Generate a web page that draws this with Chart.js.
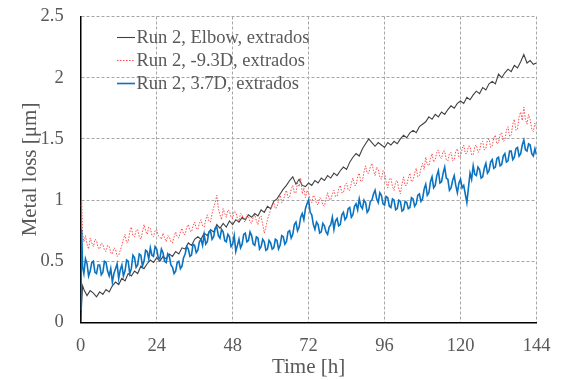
<!DOCTYPE html>
<html>
<head>
<meta charset="utf-8">
<script src="https://cdn.jsdelivr.net/npm/chart.js@4/dist/chart.umd.min.js"></script>
<style>
  html, body { margin: 0; padding: 0; background: #fff; }
  #wrap { width: 561px; height: 380px; position: relative; }
</style>
</head>
<body>
<div id="wrap"><canvas id="c"></canvas></div>
<script>
// ---- Categories (hours since start) ----
const hours = [0, 0.3, 0.6,
  1,2,3,4,5,6,7,8,9,10,11,12,13,14,15,16,17,18,19,20,21,22,23,24,
  25,26,27,28,29,30,31,32,33,34,35,36,37,38,39,40,41,42,43,44,45,46,47,48,
  49,50,51,52,53,54,55,56,57,58,59,60,61,62,63,64,65,66,67,68,69,70,71,72,
  73,74,75,76,77,78,79,80,81,82,83,84,85,86,87,88,89,90,91,92,93,94,95,96,
  97,98,99,100,101,102,103,104,105,106,107,108,109,110,111,112,113,114,115,116,117,118,119,120,
  121,122,123,124,125,126,127,128,129,130,131,132,133,134,135,136,137,138,139,140,141,142,143,144];

// half-hour sampling times for the two noisier probes
const halfHours = [0, 0.3, 0.6];
for (let h = 1; h <= 144; h += 0.5) halfHours.push(h);

const seriesNames = ["Run 2, Elbow, extrados", "Run 2, -9.3D, extrados", "Run 2, 3.7D, extrados"];

// ---- Series values (metal loss, µm) ----
const elbow = [0.00, 0.15, 0.30,
  0.27,0.22,0.26,0.24,0.21,0.25,0.23,0.27,0.25,0.30,0.33,0.31,0.36,0.34,0.40,0.38,0.42,0.40,0.46,0.44,0.48,0.51,0.49,0.53,
  0.50,0.54,0.52,0.56,0.54,0.58,0.56,0.61,0.60,0.65,0.63,0.68,0.70,0.68,0.73,0.71,0.76,0.74,0.80,0.77,0.81,0.78,0.83,0.80,
  0.84,0.82,0.86,0.84,0.88,0.86,0.89,0.87,0.92,0.90,0.95,0.93,0.99,1.01,1.05,1.09,1.12,1.16,1.19,1.13,1.17,1.12,1.11,1.14,
  1.12,1.16,1.14,1.18,1.16,1.20,1.18,1.22,1.20,1.24,1.27,1.25,1.31,1.35,1.38,1.36,1.42,1.46,1.50,1.47,1.44,1.47,1.45,1.43,
  1.47,1.45,1.48,1.46,1.50,1.53,1.51,1.55,1.57,1.55,1.60,1.62,1.64,1.68,1.66,1.70,1.68,1.72,1.70,1.74,1.77,1.75,1.79,1.81,
  1.79,1.84,1.82,1.86,1.89,1.87,1.92,1.90,1.95,1.97,1.95,2.03,2.00,2.04,2.07,2.05,2.10,2.08,2.13,2.19,2.12,2.14,2.11,2.12];

const minus93D = [0.95, 1.00, 0.72,
  0.66,0.71,0.64,0.60,0.69,0.65,0.62,0.68,0.67,0.61,0.60,0.65,0.64,0.59,0.58,0.63,0.62,0.57,0.56,0.61,0.60,0.54,0.55,0.59,
  0.63,0.68,0.72,0.65,0.66,0.74,0.78,0.71,0.70,0.75,0.76,0.70,0.68,0.74,0.80,0.75,0.72,0.78,0.77,0.71,0.70,0.75,0.76,0.71,
  0.70,0.68,0.73,0.69,0.66,0.71,0.70,0.66,0.65,0.70,0.74,0.70,0.69,0.74,0.77,0.72,0.72,0.78,0.80,0.75,0.74,0.79,0.82,0.77,
  0.76,0.81,0.84,0.79,0.78,0.84,0.88,0.83,0.82,0.89,0.94,0.98,1.04,0.93,0.88,0.84,0.93,0.89,0.86,0.92,0.91,0.86,0.85,0.91,
  0.90,0.85,0.83,0.89,0.88,0.83,0.82,0.88,0.87,0.82,0.81,0.86,0.88,0.83,0.80,0.86,0.87,0.80,0.73,0.78,0.84,0.88,0.92,0.96,
  0.98,0.93,0.94,1.00,1.04,0.98,0.99,1.05,1.08,1.02,1.02,1.09,1.12,1.06,1.06,1.14,1.11,1.18,1.05,1.10,1.02,1.08,1.06,1.00,
  0.98,1.04,1.02,0.97,0.96,1.02,1.01,0.96,0.95,1.01,1.06,1.01,1.00,1.05,1.08,1.03,1.03,1.09,1.12,1.06,1.06,1.12,1.14,1.08,
  1.08,1.14,1.18,1.12,1.12,1.19,1.22,1.15,1.16,1.23,1.28,1.22,1.22,1.27,1.30,1.24,1.20,1.27,1.25,1.19,1.17,1.24,1.22,1.15,
  1.10,1.17,1.18,1.11,1.08,1.15,1.16,1.09,1.05,1.13,1.19,1.12,1.12,1.18,1.22,1.15,1.16,1.22,1.26,1.19,1.20,1.26,1.30,1.25,
  1.35,1.29,1.28,1.34,1.38,1.31,1.33,1.39,1.41,1.35,1.34,1.40,1.40,1.33,1.32,1.38,1.39,1.32,1.33,1.40,1.42,1.35,1.36,1.42,
  1.45,1.38,1.38,1.44,1.44,1.37,1.37,1.44,1.45,1.39,1.40,1.47,1.48,1.41,1.42,1.49,1.50,1.43,1.44,1.51,1.53,1.46,1.47,1.54,
  1.55,1.48,1.49,1.57,1.60,1.52,1.53,1.62,1.66,1.57,1.58,1.68,1.72,1.65,1.76,1.66,1.62,1.70,1.66,1.58,1.56,1.63,1.60];

const plus37D = [0.10, 0.76, 0.45,
  0.40,0.52,0.48,0.38,0.42,0.49,0.50,0.41,0.40,0.47,0.47,0.39,0.41,0.50,0.49,0.42,0.38,0.44,0.33,0.40,0.44,0.48,0.36,0.43,
  0.47,0.38,0.42,0.51,0.50,0.40,0.44,0.55,0.53,0.45,0.47,0.56,0.55,0.46,0.50,0.59,0.58,0.52,0.61,0.55,0.54,0.62,0.60,0.53,
  0.52,0.60,0.57,0.50,0.49,0.56,0.54,0.47,0.45,0.40,0.42,0.49,0.50,0.44,0.46,0.53,0.56,0.62,0.60,0.54,0.55,0.64,0.63,0.57,
  0.59,0.66,0.68,0.63,0.72,0.64,0.66,0.74,0.75,0.68,0.70,0.77,0.78,0.71,0.69,0.76,0.74,0.67,0.66,0.72,0.70,0.62,0.64,0.71,
  0.58,0.63,0.68,0.61,0.64,0.72,0.73,0.66,0.67,0.74,0.71,0.64,0.63,0.70,0.69,0.60,0.62,0.68,0.66,0.59,0.60,0.67,0.65,0.60,
  0.61,0.68,0.67,0.60,0.63,0.71,0.70,0.64,0.66,0.74,0.75,0.69,0.72,0.80,0.82,0.75,0.78,0.86,0.89,0.84,0.93,0.97,1.00,0.90,
  0.88,0.80,0.76,0.82,0.80,0.73,0.74,0.81,0.79,0.74,0.72,0.78,0.80,0.86,0.76,0.83,0.85,0.79,0.80,0.88,0.90,0.84,0.86,0.93,
  0.94,0.86,0.88,0.95,0.97,0.92,1.01,0.95,0.93,1.00,0.98,0.90,0.92,0.99,1.00,1.05,1.08,1.01,0.98,1.06,1.04,0.97,0.96,1.03,
  1.02,0.95,0.94,1.01,1.00,0.92,0.93,1.00,0.99,0.91,0.92,0.99,0.98,0.93,0.94,1.02,1.01,0.95,0.97,1.04,1.05,0.99,1.01,1.09,
  1.13,1.04,1.06,1.15,1.19,1.10,1.12,1.20,1.24,1.14,1.15,1.22,1.27,1.18,1.17,1.08,1.10,1.16,1.20,1.12,1.06,1.14,1.17,1.10,
  1.12,1.05,0.98,1.10,1.22,1.17,1.28,1.21,1.20,1.27,1.25,1.18,1.19,1.26,1.30,1.22,1.24,1.31,1.33,1.26,1.27,1.34,1.35,1.28,
  1.29,1.36,1.38,1.31,1.32,1.40,1.40,1.33,1.35,1.42,1.43,1.36,1.38,1.45,1.49,1.41,1.40,1.46,1.45,1.38,1.36,1.42,1.37];

const xTicks = [0, 24, 48, 72, 96, 120, 144];
const yTickLabels = ["0", "0.5", "1", "1.5", "2", "2.5"];

// ---- Chart ----
const toXY = (xs, arr) => arr.map((v, i) => ({ x: xs[i], y: v }));
const serif = "'Liberation Serif', 'Times New Roman', serif";

const legendPlugin = {
  id: 'insideLegend',
  afterDraw(chart) {
    const ctx = chart.ctx;
    const ys = [37, 60, 83];
    ctx.save();
    ctx.font = "18.5px " + serif;
    ctx.textBaseline = 'middle';
    [0, 1, 2].forEach((di, k) => {
      const ds = chart.data.datasets[di];
      const y = ys[k];
      ctx.beginPath();
      ctx.strokeStyle = ds.borderColor;
      ctx.lineWidth = ds.borderWidth;
      ctx.setLineDash(ds.borderDash || []);
      ctx.moveTo(117, y + 0.5);
      ctx.lineTo(135, y + 0.5);
      ctx.stroke();
      ctx.setLineDash([]);
      ctx.fillStyle = '#595959';
      ctx.fillText(ds.label, 136.5, y + 1);
    });
    ctx.restore();
  }
};

new Chart(document.getElementById('c'), {
  type: 'line',
  data: {
    datasets: [
      { label: seriesNames[0], data: toXY(hours, elbow), borderColor: '#404040', borderWidth: 1.1, pointRadius: 0, tension: 0, order: 2 },
      { label: seriesNames[1], data: toXY(halfHours, minus93D), borderColor: '#FF4B4B', borderWidth: 1, borderDash: [1.5, 1.5], pointRadius: 0, tension: 0, order: 1 },
      { label: seriesNames[2], data: toXY(halfHours, plus37D), borderColor: '#0B72C0', borderWidth: 1.6, pointRadius: 0, tension: 0, order: 0 }
    ]
  },
  options: {
    responsive: true,
    maintainAspectRatio: false,
    animation: false,
    devicePixelRatio: 1,
    layout: { padding: { left: 0, right: 24.5, top: 16.5, bottom: 0 } },
    plugins: { legend: { display: false }, tooltip: { enabled: false } },
    scales: {
      x: {
        type: 'linear', min: 0, max: 144,
        afterBuildTicks: (s) => { s.ticks = xTicks.map(v => ({ value: v })); },
        afterFit: (s) => { s.height = 57.5; s.paddingLeft = 0; s.paddingRight = 0; },
        ticks: { color: '#595959', font: { family: serif, size: 18.5 }, padding: 13, maxRotation: 0, autoSkip: false },
        grid: { color: '#A6A6A6', lineWidth: 1, drawTicks: false },
        border: { display: true, color: '#000000', width: 1.5, dash: [3, 2] },
        title: { display: true, text: 'Time [h]', color: '#595959', font: { family: serif, size: 21 }, padding: { top: 0, bottom: 0 } }
      },
      y: {
        type: 'linear', min: 0, max: 2.5,
        ticks: { stepSize: 0.5, color: '#595959', font: { family: serif, size: 18.5 }, padding: 17,
                 callback: (v, i) => yTickLabels[i] },
        afterFit: (s) => { s.width = 80.7; s.paddingTop = 0; s.paddingBottom = 0; },
        grid: { color: '#A6A6A6', lineWidth: 1, drawTicks: false },
        border: { display: true, color: '#000000', width: 1.5, dash: [3, 2] },
        title: { display: true, text: 'Metal loss [μm]', color: '#595959', font: { family: serif, size: 21 }, padding: { top: 18, bottom: 0 } }
      }
    }
  },
  plugins: [legendPlugin]
});
</script>
</body>
</html>
